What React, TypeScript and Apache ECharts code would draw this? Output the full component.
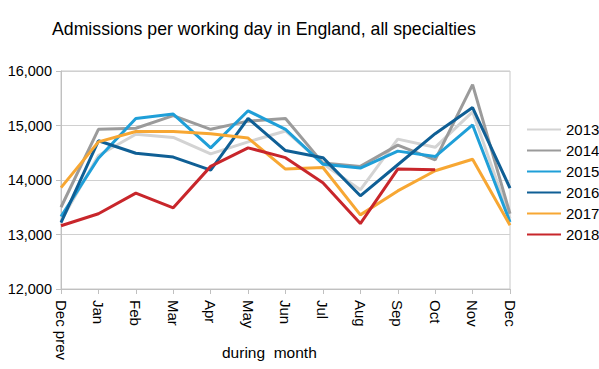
import React, { useEffect, useRef } from "react";
import * as echarts from "echarts";

const months = ["Dec prev", "Jan", "Feb", "Mar", "Apr", "May", "Jun", "Jul", "Aug", "Sep", "Oct", "Nov", "Dec"];
const yTicks = [12000, 13000, 14000, 15000, 16000];

const y2013 = [13250, 14450, 14840, 14780, 14480, 14700, 14900, 14300, 13820, 14750, 14600, 15250, 13300];
const y2014 = [13500, 14930, 14950, 15180, 14930, 15080, 15130, 14310, 14250, 14640, 14370, 15750, 13380];
const y2015 = [13330, 14400, 15130, 15210, 14590, 15270, 14930, 14290, 14220, 14530, 14430, 15010, 13230];
const y2016 = [13220, 14720, 14490, 14420, 14180, 15130, 14540, 14410, 13710, 14280, 14850, 15330, 13850];
const y2017 = [13860, 14700, 14890, 14890, 14850, 14770, 14200, 14230, 13360, 13800, 14170, 14380, 13170];
const y2018 = [13160, 13380, 13760, 13490, 14250, 14590, 14410, 13950, 13200, 14200, 14190];

const seriesDefs = [
  { name: "2013", data: y2013, color: "#d3d3d3" },
  { name: "2014", data: y2014, color: "#9b9b9b" },
  { name: "2015", data: y2015, color: "#1f9fd8" },
  { name: "2016", data: y2016, color: "#0f5f95" },
  { name: "2017", data: y2017, color: "#f7a733" },
  { name: "2018", data: y2018, color: "#c8262b" },
];

const FONT = "'Liberation Sans', Arial, Helvetica, sans-serif";

export default function App() {
  const ref = useRef<HTMLDivElement>(null);
  useEffect(() => {
    if (!ref.current) return;
    const chart = echarts.init(ref.current, undefined, { renderer: "svg" });
    chart.setOption({
      animation: false,
      backgroundColor: "#ffffff",
      textStyle: { fontFamily: FONT },
      title: {
        text: "Admissions per working day in England, all specialties",
        left: 47,
        top: 15,
        textStyle: { fontFamily: FONT, fontSize: 17.7, fontWeight: "normal", color: "#000" },
      },
      legend: {
        orient: "vertical",
        left: 522,
        top: 117,
        itemGap: 6,
        itemWidth: 34,
        itemHeight: 2,
        icon: "rect",
        selectedMode: false,
        textStyle: { fontFamily: FONT, fontSize: 15, color: "#000" },
        data: seriesDefs.map((s) => s.name),
      },
      graphic: [
        {
          type: "text",
          left: 222,
          top: 344,
          style: { text: "during  month", font: `15.5px ${FONT}`, fill: "#000" },
        },
      ],
      grid: {
        left: 61,
        right: 89,
        top: 71,
        bottom: 80,
        show: true,
        borderColor: "#c8c8c8",
        borderWidth: 1,
      },
      xAxis: {
        type: "category",
        data: months,
        boundaryGap: false,
        axisLine: { lineStyle: { color: "#c0c0c0" } },
        axisTick: { show: true, length: 5, alignWithLabel: true, lineStyle: { color: "#c0c0c0" } },
        axisLabel: { rotate: -90, fontFamily: FONT, fontSize: 15, color: "#000", margin: 11, interval: 0 },
        splitLine: { show: false },
      },
      yAxis: {
        type: "value",
        min: yTicks[0],
        max: yTicks[yTicks.length - 1],
        interval: 1000,
        axisLine: { show: true, lineStyle: { color: "#c0c0c0" } },
        axisTick: { show: true, length: 5, lineStyle: { color: "#c0c0c0" } },
        axisLabel: {
          fontFamily: FONT,
          fontSize: 14.5,
          color: "#000",
          margin: 9,
          formatter: (v: number) => v.toLocaleString("en-US"),
        },
        splitLine: { show: true, lineStyle: { color: "#d0d0d0", width: 1 } },
      },
      series: seriesDefs.map((s) => ({
        name: s.name,
        type: "line",
        data: s.data,
        symbol: "none",
        color: s.color,
        lineStyle: { color: s.color, width: 3 },
        itemStyle: { color: s.color },
      })),
    });
    return () => chart.dispose();
  }, []);
  return <div ref={ref} style={{ width: 599, height: 369, position: "absolute", left: 0, top: 0 }} />;
}
